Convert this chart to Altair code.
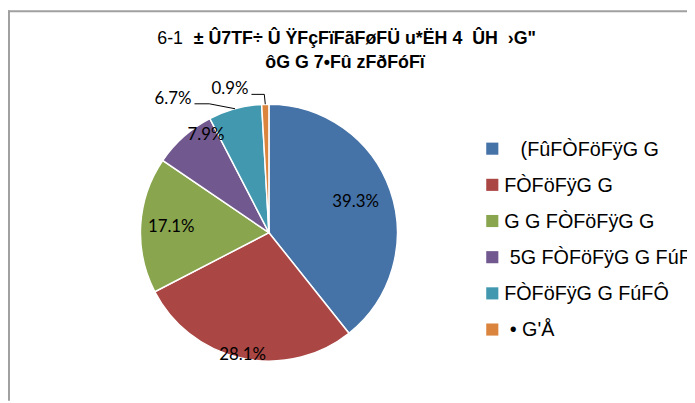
import math
import altair as alt
import pandas as pd

# ---------------- data ----------------
categories = [
    "\u200b\u00a0\u00a0\u00a0(FûFÒFöFÿG G",
    "FÒFöFÿG G",
    "G G FÒFöFÿG G",
    "\u200b\u00a05G FÒFöFÿG G FúFÔ",
    "FÒFöFÿG G FúFÔ",
    "\u200b\u00a0• G'Å",
]
values = [39.3, 28.1, 17.1, 7.9, 6.7, 0.9]
labels = ["39.3%", "28.1%", "17.1%", "7.9%", "6.7%", "0.9%"]
colors = ["#4572A7", "#AA4643", "#89A54E", "#71588F", "#4198AF", "#DB843D"]
title_num = ["6-1"]
title_line1 = ["± Û7TF÷ Û ŸFçFïFãFøFÜ u*ËH 4\u00a0 ÛH\u00a0 ›G\""]
title_line2 = ["ôG G 7•Fû zFðFóFï"]

# ---------------- layout ----------------
CX, CY, R = 264, 225, 130
W, H = 687, 395

df = pd.DataFrame({"cat": categories, "val": values, "lab": labels, "ord": list(range(len(values)))})

theta = alt.Theta("val:Q", stack=True)
order = alt.Order("ord:Q", sort="ascending")
color = alt.Color("cat:N", scale=alt.Scale(domain=categories, range=colors), legend=None)

arc = alt.Chart(df).mark_arc(radius=R, stroke="white", strokeWidth=1.5).encode(
    theta=theta, order=order, x=alt.value(CX), y=alt.value(CY), color=color
)


def inner_label(idx_list, radius, dx=0, dy=0):
    cond = " || ".join(f"datum.ord == {i}" for i in idx_list)
    return alt.Chart(df).mark_text(
        radius=radius, font="Lato", fontSize=17, color="black", dx=dx, dy=dy
    ).encode(
        theta=theta,
        order=order,
        x=alt.value(CX),
        y=alt.value(CY),
        text=alt.condition(cond, "lab:N", alt.value("")),
    )


lab_a = inner_label([0], 93)
lab_b = inner_label([1], 127)
lab_c = inner_label([2], 99)
lab_d = inner_label([3], 120, dx=16, dy=-9)

# outside labels with leader lines, anchored at the slice mid-edge point
total = sum(values)
cum = 0.0
edge = []
for v in values:
    mid = (cum + v / 2) / total * 2 * math.pi
    edge.append((CX + R * math.sin(mid), CY - R * math.cos(mid)))
    cum += v

ex4, ey4 = edge[4]
ex5, ey5 = edge[5]
segs = pd.DataFrame({
    "x": [ex4 - 41, ex4 - 26, ex5 - 14, ex5 - 1],
    "y": [ey4 - 5, ey4 - 5, ey5 - 10, ey5 - 10],
    "x2": [ex4 - 26, ex4, ex5 - 1, ex5],
    "y2": [ey4 - 5, ey4, ey5 - 10, ey5],
})
leaders = alt.Chart(segs).mark_rule(color="black", strokeWidth=1).encode(
    x=alt.X("x:Q", scale=None, axis=None),
    y=alt.Y("y:Q", scale=None, axis=None),
    x2="x2:Q",
    y2="y2:Q",
)

out_df = pd.DataFrame({
    "lab": [labels[4], labels[5]],
    "x": [ex4 - 44, ex5 - 17],
    "y": [ey4 - 10, ey5 - 15],
})
out_labels = alt.Chart(out_df).mark_text(
    font="Lato", fontSize=17, color="black", align="right", baseline="middle"
).encode(
    x=alt.X("x:Q", scale=None, axis=None),
    y=alt.Y("y:Q", scale=None, axis=None),
    text="lab:N",
)

# legend (built from the shared colour scale)
leg_y = alt.Y("cat:N", sort=categories,
              scale=alt.Scale(type="point", domain=categories, range=[140, 323], padding=0),
              axis=None)
leg_sym = alt.Chart(df).mark_point(shape="square", filled=True, size=150, opacity=1).encode(
    x=alt.value(490), y=leg_y, color=color
)
leg_txt = alt.Chart(df).mark_text(
    font="Liberation Sans", fontSize=20, color="black", align="left", baseline="middle", dy=1
).encode(x=alt.value(502), y=leg_y, text="cat:N")

# title
t_num = alt.Chart(pd.DataFrame({"t": title_num})).mark_text(
    font="Liberation Sans", fontSize=18, align="left", baseline="alphabetic", color="black"
).encode(text="t:N", x=alt.value(151), y=alt.value(34))
t_l1 = alt.Chart(pd.DataFrame({"t": title_line1})).mark_text(
    font="Liberation Sans", fontSize=18, fontWeight="bold", align="left",
    baseline="alphabetic", color="black"
).encode(text="t:N", x=alt.value(188), y=alt.value(34))
t_l2 = alt.Chart(pd.DataFrame({"t": title_line2})).mark_text(
    font="Liberation Sans", fontSize=18, fontWeight="bold", align="center",
    baseline="alphabetic", color="black"
).encode(text="t:N", x=alt.value(341), y=alt.value(58))

# frame
frame_l = alt.Chart(df.head(1)).mark_rule(color="#a0a0a0", strokeWidth=2).encode(
    x=alt.value(1), y=alt.value(0), y2=alt.value(H)
)
frame_t = alt.Chart(df.head(1)).mark_rule(color="#a0a0a0", strokeWidth=2).encode(
    x=alt.value(0), x2=alt.value(W), y=alt.value(1)
)

chart = alt.layer(
    frame_l, frame_t, arc, lab_a, lab_b, lab_c, lab_d, leaders, out_labels,
    leg_sym, leg_txt, t_num, t_l1, t_l2
).properties(
    width=W, height=H, autosize=alt.AutoSizeParams(type="none"), padding=0
).configure_view(stroke=None)

chart.save("out.html", embed_options={"renderer": "svg", "actions": False})
